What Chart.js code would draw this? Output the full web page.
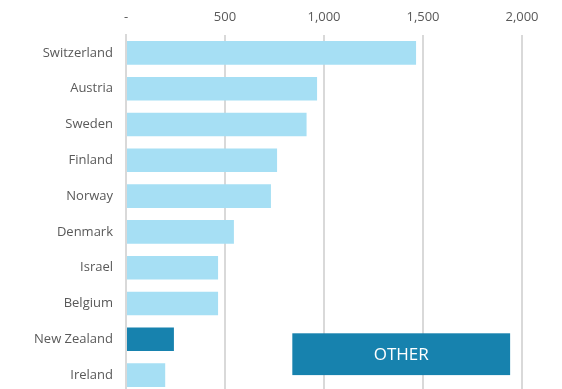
<!DOCTYPE html>
<html>
<head>
<meta charset="utf-8">
<script src="https://cdn.jsdelivr.net/npm/chart.js@4/dist/chart.umd.min.js"></script>
<style>
  html, body { margin: 0; padding: 0; background: #FFFFFF; overflow: hidden; }
  canvas { display: block; }
</style>
</head>
<body>
<canvas id="chart" width="562" height="393"></canvas>
<script>
// Country values
const countries = ['Switzerland', 'Austria', 'Sweden', 'Finland', 'Norway', 'Denmark', 'Israel', 'Belgium', 'New Zealand', 'Ireland'];
const values = [1465, 965, 912, 763, 732, 545, 465, 465, 242, 198];
const highlight = 'New Zealand';
const xTicks = [0, 500, 1000, 1500, 2000];

const LIGHT = '#A6DFF4';
const DARK = '#1782AE';
const GRID = '#D9D9D9';
const TEXT = '#595959';
const FONT = '"Open Sans", sans-serif';

// "OTHER" label box in the lower right
const otherBox = {
    id: 'otherBox',
    afterDatasetsDraw(chart) {
        const { ctx, scales: { x, y } } = chart;
        const left = x.getPixelForValue(840);
        const right = x.getPixelForValue(1940);
        const top = y.getPixelForValue(8) - 6;
        const bottom = y.getPixelForValue(9);
        ctx.save();
        ctx.fillStyle = DARK;
        ctx.fillRect(left, top, right - left, bottom - top);
        ctx.fillStyle = '#FFFFFF';
        ctx.font = '17px ' + FONT;
        ctx.textAlign = 'center';
        ctx.textBaseline = 'middle';
        ctx.fillText('OTHER', (left + right) / 2, (top + bottom) / 2 + 1);
        ctx.restore();
    }
};

new Chart(document.getElementById('chart'), {
    type: 'bar',
    data: {
        labels: countries,
        datasets: [{
            data: values,
            backgroundColor: countries.map(c => c === highlight ? DARK : LIGHT),
            barPercentage: 0.66,
            categoryPercentage: 1.0
        }]
    },
    options: {
        indexAxis: 'y',
        responsive: false,
        animation: false,
        layout: { padding: { left: 0, right: 40, top: 0, bottom: 0 } },
        plugins: {
            legend: { display: false },
            tooltip: { enabled: false }
        },
        scales: {
            x: {
                position: 'top',
                min: 0,
                max: 2000,
                afterBuildTicks: (axis) => { axis.ticks = xTicks.map(v => ({ value: v })); },
                afterFit: (axis) => { axis.height = 35; axis.paddingTop = 0; axis.paddingBottom = 0; },
                grid: { color: GRID, lineWidth: 2, drawTicks: false },
                border: { display: false },
                ticks: {
                    color: TEXT,
                    padding: 10,
                    font: { family: FONT, size: 13 },
                    callback: (v) => v === 0 ? '-' : v.toLocaleString('en-US')
                }
            },
            y: {
                afterFit: (axis) => { axis.width = 126; axis.paddingTop = 0; axis.paddingBottom = 0; },
                grid: { display: false, drawTicks: false },
                border: { display: true, color: GRID, width: 2 },
                ticks: {
                    color: TEXT,
                    padding: 13,
                    font: { family: FONT, size: 13 }
                }
            }
        }
    },
    plugins: [otherBox]
});
</script>
</body>
</html>
